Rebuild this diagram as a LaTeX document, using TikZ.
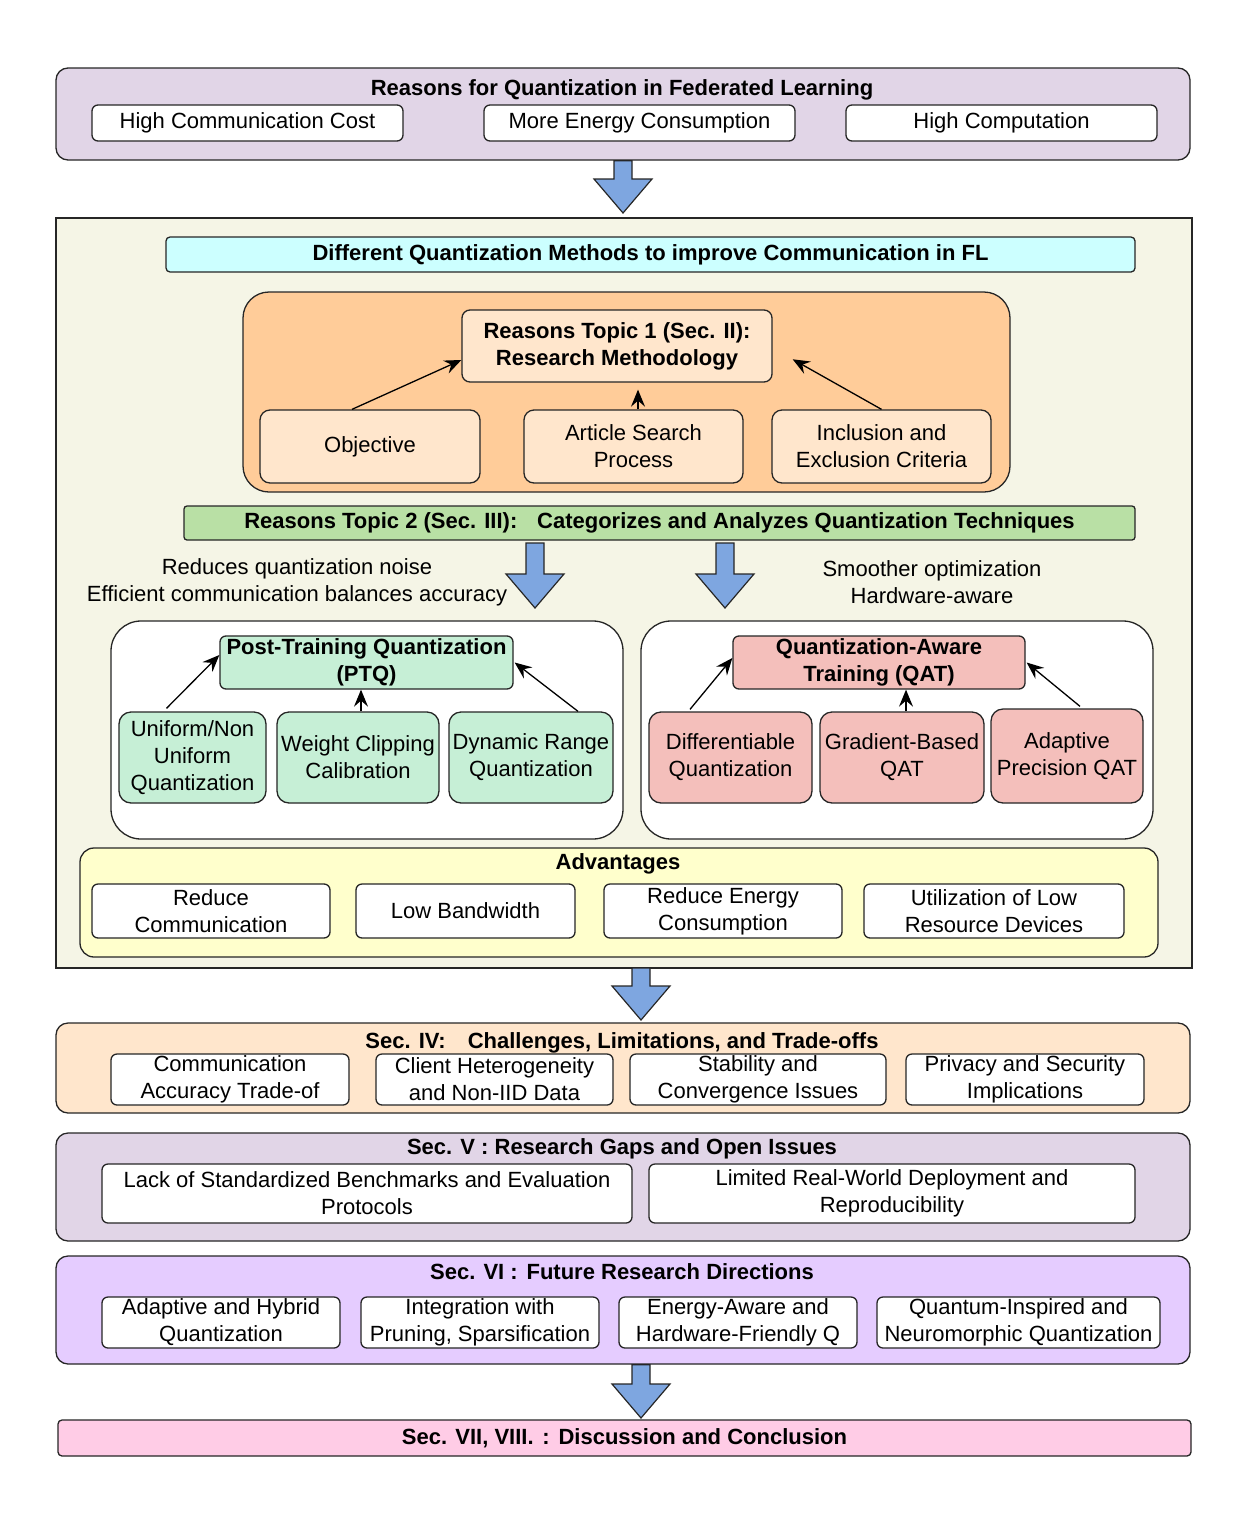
\documentclass[tikz,border=0pt]{standalone}
\usepackage{fontspec}
\setmainfont{Liberation Sans}
\usetikzlibrary{calc,arrows.meta}

\definecolor{lilac}{HTML}{E1D5E7}
\definecolor{panel}{HTML}{F5F5E6}
\definecolor{cyanbar}{HTML}{CCFFFF}
\definecolor{peach}{HTML}{FFCC99}
\definecolor{cream}{HTML}{FFE6CC}
\definecolor{greenbar}{HTML}{B9E0A5}
\definecolor{mint}{HTML}{C6EFD6}
\definecolor{rose}{HTML}{F4BFBB}
\definecolor{lemon}{HTML}{FFFFCC}
\definecolor{violet}{HTML}{E5CCFF}
\definecolor{pinkbar}{HTML}{FFCCE6}
\definecolor{arrowblue}{HTML}{7EA6E0}

% block arrow between two points (start, tip)
\newcommand{\fatarrow}[2]{%
  \path[fatarrow] let \p1=#1, \p2=#2 in
    (\x1-9pt,\y1) -- (\x1+9pt,\y1) -- (\x1+9pt,\y2+34pt) -- (\x1+29pt,\y2+34pt)
    -- (\x1,\y2) -- (\x1-29pt,\y2+34pt) -- (\x1-9pt,\y2+34pt) -- cycle;}

\begin{document}
\begin{tikzpicture}[x=1pt,y=-1pt,
    font=\fontsize{22}{27}\selectfont,
    group/.style={draw=black!85, line width=1.3pt, rounded corners=12pt},
    item/.style={draw=black!85, line width=1.3pt, rounded corners=6pt, fill=white,
      align=center, inner sep=0pt},
    ttl/.style={font=\fontsize{22}{27}\selectfont\bfseries, inner sep=0pt, align=center},
    note/.style={inner sep=0pt, align=center},
    link/.style={-{Stealth[length=17pt,width=14pt,inset=6pt]}, line width=1.3pt},
    fatarrow/.style={draw=black!85, line width=1.2pt, fill=arrowblue, line join=miter}]
  \useasboundingbox (0,0) rectangle (1248,1526);

  % reasons
  \node[group, fill=lilac, minimum width=1134, minimum height=92] (top) at (623,114) {};
  \node[ttl] (topttl) at (622,89.5) {Reasons for Quantization in Federated Learning};
  \node[item, minimum width=311, minimum height=36] (cost) at (247.5,123) {High Communication Cost};
  \node[item, minimum width=311, minimum height=36] (energy) at (639.5,123) {More Energy Consumption};
  \node[item, minimum width=311, minimum height=36] (comp) at (1001.5,123) {High Computation};

  % methods panel
  \node[draw=black!85, line width=1.3pt, fill=panel, minimum width=1136, minimum height=750] (panel) at (624,593) {};
  \coordinate (a1e) at (623,213);
  \fatarrow{(top.south)}{(a1e)}

  \node[ttl, draw=black!85, line width=1.3pt, rounded corners=4pt, fill=cyanbar,
    minimum width=969, minimum height=35] (methods) at (650.5,254.5)
    {Different Quantization Methods to improve Communication in FL};

  % topic 1
  \node[draw=black!85, line width=1.3pt, rounded corners=26pt, fill=peach,
    minimum width=767, minimum height=200] (topic1) at (626.5,392) {};
  \node[ttl, draw=black!85, line width=1.3pt, rounded corners=8pt, fill=cream,
    minimum width=310, minimum height=72] (t1) at (617,346)
    {Reasons Topic 1 (Sec. II):\\Research Methodology};
  \node[item, fill=cream, rounded corners=10pt, minimum width=220, minimum height=73] (obj) at (370,446.5) {Objective};
  \node[item, fill=cream, rounded corners=10pt, minimum width=219, minimum height=73] (art) at (633.5,446.5) {Article Search\\Process};
  \node[item, fill=cream, rounded corners=10pt, minimum width=219, minimum height=73] (inc) at (881.5,446.5) {Inclusion and\\Exclusion Criteria};
  \draw[link] ([xshift=-18pt]obj.north) -- ([yshift=-14pt]t1.west);
  \draw[link, shorten >=7pt] ([xshift=4.5pt]art.north) -- ([xshift=4.5pt]art.north |- t1.south);
  \draw[link, shorten >=23pt] (inc.north) -- ([yshift=-2pt]t1.east);

  % topic 2
  \node[ttl, draw=black!85, line width=1.3pt, rounded corners=3pt, fill=greenbar,
    minimum width=951, minimum height=34] (gbar) at (659.5,523)
    {Reasons Topic 2 (Sec. III):\hspace{0.9em}Categorizes and Analyzes Quantization Techniques};
  \coordinate (a2s) at (535,543);
  \coordinate (a2e) at (535,608);
  \coordinate (a3s) at (725,543);
  \coordinate (a3e) at (725,608);
  \fatarrow{(a2s)}{(a2e)}
  \fatarrow{(a3s)}{(a3e)}
  \node[note] (ptqnote) at (297,582) {Reduces quantization noise\\Efficient communication balances accuracy};
  \node[note] (qatnote) at (932,582) {Smoother optimization\\Hardware-aware};

  % PTQ
  \node[draw=black!85, line width=1.3pt, rounded corners=30pt, fill=white,
    minimum width=512, minimum height=218] (ptqbox) at (367,730) {};
  \node[ttl, draw=black!85, line width=1.3pt, rounded corners=6pt, fill=mint,
    minimum width=293, minimum height=53] (ptq) at (366.5,662.5) {Post-Training Quantization\\(PTQ)};
  \node[item, fill=mint, rounded corners=12pt, minimum width=147, minimum height=91] (uni) at (192.5,757.5) {Uniform/Non\\Uniform\\Quantization};
  \node[item, fill=mint, rounded corners=12pt, minimum width=162, minimum height=91] (clip) at (358,757.5) {Weight Clipping\\Calibration};
  \node[item, fill=mint, rounded corners=12pt, minimum width=164, minimum height=91] (dyn) at (531,757.5) {Dynamic Range\\Quantization};
  \draw[link] ([xshift=-26pt,yshift=3pt]uni.north) -- ([yshift=7.5pt]ptq.west);
  \draw[link] ([xshift=3pt]clip.north) -- ([xshift=3pt]clip.north |- ptq.south);
  \draw[link] ([xshift=47pt]dyn.north) -- ([xshift=1pt]ptq.east);

  % QAT
  \node[draw=black!85, line width=1.3pt, rounded corners=30pt, fill=white,
    minimum width=512, minimum height=218] (qatbox) at (897,730) {};
  \node[ttl, draw=black!85, line width=1.3pt, rounded corners=6pt, fill=rose,
    minimum width=292, minimum height=53] (qat) at (879,662.5) {Quantization-Aware\\Training (QAT)};
  \node[item, fill=rose, rounded corners=12pt, minimum width=163, minimum height=91] (diff) at (730.5,757.5) {Differentiable\\Quantization};
  \node[item, fill=rose, rounded corners=12pt, minimum width=164, minimum height=91] (grad) at (902,757.5) {Gradient-Based\\QAT};
  \node[item, fill=rose, rounded corners=12pt, minimum width=152, minimum height=94] (adap) at (1067,756) {Adaptive\\Precision QAT};
  \draw[link] ([xshift=-40.5pt,yshift=2pt]diff.north) -- ([yshift=4.5pt]qat.west);
  \draw[link] ([xshift=4pt]grad.north) -- ([xshift=4pt]grad.north |- qat.south);
  \draw[link] ([xshift=13pt,yshift=2pt]adap.north) -- ([xshift=1pt]qat.east);

  % advantages
  \node[group, fill=lemon, rounded corners=14pt, minimum width=1078, minimum height=109] (adv) at (619,902.5) {};
  \node[ttl] (advttl) at (618,863.5) {Advantages};
  \node[item, minimum width=238, minimum height=54] (lesscomm) at (211,911) {Reduce\\Communication};
  \node[item, minimum width=219, minimum height=54] (lowbw) at (465.5,911) {Low Bandwidth};
  \node[item, minimum width=238, minimum height=54] (lessenergy) at (723,911) {Reduce Energy\\Consumption};
  \node[item, minimum width=260, minimum height=54] (lowres) at (994,911) {Utilization of Low\\Resource Devices};

  % challenges
  \coordinate (a4s) at (641,968);
  \coordinate (a4e) at (641,1020);
  \fatarrow{(a4s)}{(a4e)}
  \node[group, fill=cream, minimum width=1134, minimum height=90] (sec4) at (623,1068) {};
  \node[ttl] (sec4ttl) at (622,1042.5) {Sec. IV:\hspace{1em}Challenges, Limitations, and Trade-offs};
  \node[item, minimum width=238, minimum height=51] (tradeoff) at (230,1079.5) {Communication\\Accuracy Trade-of};
  \node[item, minimum width=237, minimum height=51] (hetero) at (494.5,1079.5) {Client Heterogeneity\\and Non-IID Data};
  \node[item, minimum width=256, minimum height=51] (stab) at (758,1079.5) {Stability and\\Convergence Issues};
  \node[item, minimum width=238, minimum height=51] (priv) at (1025,1079.5) {Privacy and Security\\Implications};

  % research gaps
  \node[group, fill=lilac, minimum width=1134, minimum height=108] (sec5) at (623,1187) {};
  \node[ttl] (sec5ttl) at (622,1148.5) {Sec. V : Research Gaps and Open Issues};
  \node[item, minimum width=530, minimum height=59] (bench) at (367,1193.5) {Lack of Standardized Benchmarks and Evaluation\\Protocols};
  \node[item, minimum width=486, minimum height=59] (deploy) at (892,1193.5) {Limited Real-World Deployment and\\Reproducibility};

  % future directions
  \node[group, fill=violet, minimum width=1134, minimum height=108] (sec6) at (623,1310) {};
  \node[ttl] (sec6ttl) at (622,1271.5) {Sec. VI :\hspace{0.4em}Future Research Directions};
  \node[item, minimum width=238, minimum height=51] (hybrid) at (221,1322.5) {Adaptive and Hybrid\\Quantization};
  \node[item, minimum width=238, minimum height=51] (prune) at (480,1322.5) {Integration with\\Pruning, Sparsification};
  \node[item, minimum width=238, minimum height=51] (hwq) at (738,1322.5) {Energy-Aware and\\Hardware-Friendly Q};
  \node[item, minimum width=283, minimum height=51] (neuro) at (1018.5,1322.5) {Quantum-Inspired and\\Neuromorphic Quantization};

  % conclusion
  \coordinate (a5e) at (641,1418);
  \fatarrow{(sec6.south -| a5e)}{(a5e)}
  \node[ttl, draw=black!85, line width=1.3pt, rounded corners=4pt, fill=pinkbar,
    minimum width=1133, minimum height=36] (sec7) at (624.5,1438)
    {Sec. VII, VIII.\hspace{0.4em}:\hspace{0.4em}Discussion and Conclusion};
\end{tikzpicture}
\end{document}
